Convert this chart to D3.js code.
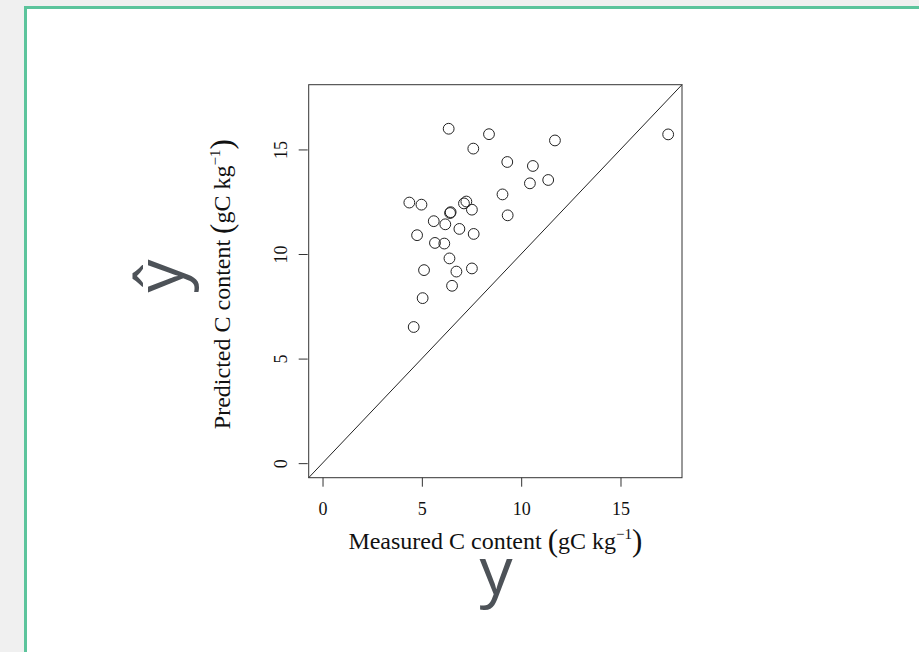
<!DOCTYPE html>
<html>
<head>
<meta charset="utf-8">
<script src="https://cdn.jsdelivr.net/npm/d3@7"></script>
<style>
  html, body { margin: 0; padding: 0; background: #f0f0f0; }
  svg { display: block; }
</style>
</head>
<body>
<svg id="chart" width="919" height="652"></svg>
<script>
// Measured vs. predicted soil carbon content (gC kg-1)
const measured = [6.35, 8.38, 11.70, 17.40, 7.59, 9.30, 10.59, 10.44, 11.36, 9.06,
                  9.32, 4.37, 4.98, 7.12, 7.24, 7.52, 6.45, 6.42, 5.60, 6.18,
                  6.89, 7.61, 4.76, 5.66, 6.13, 6.39, 5.11, 6.74, 7.52, 6.52,
                  5.04, 4.59];
const predicted = [15.99, 15.73, 15.43, 15.72, 15.04, 14.40, 14.21, 13.38, 13.54, 12.85,
                   11.85, 12.46, 12.36, 12.42, 12.51, 12.12, 12.00, 11.96, 11.57, 11.42,
                   11.20, 10.96, 10.90, 10.53, 10.50, 9.79, 9.23, 9.16, 9.31, 8.48,
                   7.89, 6.51];
const xTicks = [0, 5, 10, 15];
const yTicks = [0, 5, 10, 15];

const svg = d3.select("#chart");
const W = 919, H = 652;

// page background and card
svg.append("rect").attr("width", W).attr("height", H).attr("fill", "#f0f0f0");
svg.append("rect")
  .attr("x", 25.5).attr("y", 7.5)
  .attr("width", W + 20).attr("height", H + 20)
  .attr("fill", "#ffffff")
  .attr("stroke", "#5cc49c").attr("stroke-width", 3);

// large symbols marking the axes: ŷ (predicted) and y (measured)
const symFont = "'Open Sans', 'DejaVu Sans', sans-serif";
svg.append("text")
  .attr("transform", "translate(183,276) rotate(-90)")
  .attr("text-anchor", "middle")
  .attr("font-family", symFont).attr("font-size", 66)
  .attr("fill", "#4d5258")
  .text("ŷ");
svg.append("text")
  .attr("x", 496).attr("y", 594)
  .attr("text-anchor", "middle")
  .attr("font-family", symFont).attr("font-size", 66)
  .attr("fill", "#4d5258")
  .text("y");

// white backing of the figure itself
svg.append("rect")
  .attr("x", 200).attr("y", 40).attr("width", 590).attr("height", 518)
  .attr("fill", "#ffffff");

// plot region
const box = { left: 308.7, right: 682, top: 84.7, bottom: 477.7 };
const lim = d3.max(measured.concat(predicted));
const pad = lim * 0.04;
const x = d3.scaleLinear().domain([-pad, lim + pad]).range([box.left, box.right]);
const y = d3.scaleLinear().domain([-pad, lim + pad]).range([box.bottom, box.top]);

const serif = "'Liberation Serif', 'Times New Roman', serif";

// 1:1 line
svg.append("line")
  .attr("x1", x(-pad)).attr("y1", y(-pad))
  .attr("x2", x(lim + pad)).attr("y2", y(lim + pad))
  .attr("stroke", "#222").attr("stroke-width", 1);

// points
svg.append("g").selectAll("circle")
  .data(d3.range(measured.length))
  .join("circle")
  .attr("cx", i => x(measured[i]))
  .attr("cy", i => y(predicted[i]))
  .attr("r", 5.4)
  .attr("fill", "none")
  .attr("stroke", "#222")
  .attr("stroke-width", 1);

// frame
svg.append("rect")
  .attr("x", box.left).attr("y", box.top)
  .attr("width", box.right - box.left).attr("height", box.bottom - box.top)
  .attr("fill", "none").attr("stroke", "#333").attr("stroke-width", 1);

// x axis
const xAxis = d3.axisBottom(x).tickValues(xTicks).tickSize(9).tickPadding(7).tickFormat(d3.format("d"));
const gx = svg.append("g").attr("transform", `translate(0,${box.bottom})`).call(xAxis);
gx.select(".domain").remove();
gx.selectAll(".tick line").attr("stroke", "#333");
gx.selectAll(".tick text")
  .attr("font-family", serif).attr("font-size", 18).attr("fill", "#111")
  .attr("dy", null).attr("y", 37);

// y axis (labels parallel to the axis)
const yAxis = d3.axisLeft(y).tickValues(yTicks).tickSize(9).tickFormat(d3.format("d"));
const gy = svg.append("g").attr("transform", `translate(${box.left - 1},0)`).call(yAxis);
gy.select(".domain").remove();
gy.selectAll(".tick line").attr("stroke", "#333");
gy.selectAll(".tick text")
  .attr("font-family", serif).attr("font-size", 18).attr("fill", "#111")
  .attr("x", null).attr("dy", null)
  .attr("text-anchor", "middle")
  .attr("transform", "translate(-21,0) rotate(-90)");

// axis titles with units
function unitTitle(sel, label) {
  sel.attr("font-family", serif).attr("font-size", 24).attr("fill", "#111")
     .attr("text-anchor", "middle");
  sel.append("tspan").text(label + " ");
  sel.append("tspan").attr("font-size", 31).attr("dy", 2).text("(");
  sel.append("tspan").attr("dy", -2).text("gC kg");
  sel.append("tspan").attr("font-size", 15).attr("dy", -10).text("−1");
  sel.append("tspan").attr("font-size", 31).attr("dy", 12).text(")");
}
unitTitle(svg.append("text").attr("x", (box.left + box.right) / 2).attr("y", 549),
          "Measured C content");
unitTitle(svg.append("text")
            .attr("transform", `translate(230,${(box.top + box.bottom) / 2 + 3}) rotate(-90)`),
          "Predicted C content");
</script>
</body>
</html>
